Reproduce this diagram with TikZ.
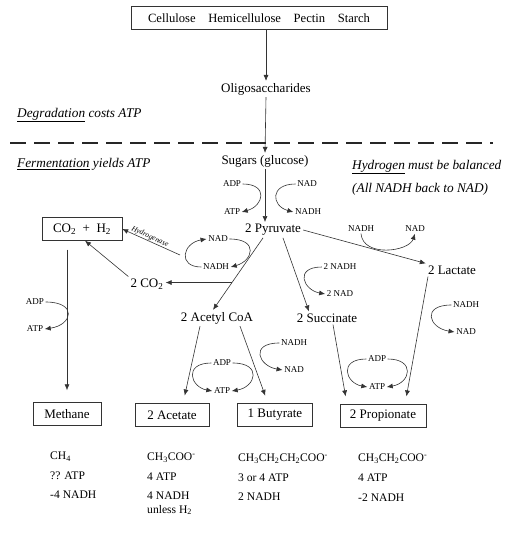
\documentclass[tikz,border=0pt]{standalone}
\usepackage{fontspec}
\setmainfont{Liberation Serif}
\usetikzlibrary{arrows.meta}

\begin{document}
\begin{tikzpicture}[
  x=1pt, y=-1pt,
  every node/.style={font=\fontsize{13}{15}\selectfont, inner sep=2pt},
  box node/.style={
    draw=black!80,
    minimum height=23pt,
    inner sep=4pt,
  },
  cofactor/.style={font=\fontsize{9}{10}\selectfont, inner sep=1.5pt},
  note/.style={anchor=west, inner sep=0pt, font=\fontsize{13.3}{15}\selectfont\itshape},
  yield/.style={anchor=west, inner sep=0pt, font=\fontsize{11.6}{13}\selectfont},
  flow/.style={draw=black!80, line width=0.6pt, -{Latex[length=6pt,width=5pt]}},
  divider/.style={draw=black!85, line width=1.6pt, dash pattern=on 16pt off 8pt},
  ]
  \useasboundingbox (0,0) rectangle (524,537);

  % degradation
  \node[box node, minimum width=256pt, font=\fontsize{12.6}{15}\selectfont] (polymers) at (259,18)
    {Cellulose\quad Hemicellulose\quad Pectin\quad Starch};
  \node (oligo) at (266,89) {Oligosaccharides};
  \node[note] (degrade-note) at (17,115) {\underline{Degradation} costs ATP};
  \coordinate (divide-left) at (10,143);
  \coordinate (divide-right) at (493,143);

  % fermentation
  \node[note] (ferment-note)  at (17,164)  {\underline{Fermentation} yields ATP};
  \node[note] (hydrogen-note) at (352,167) {\underline{Hydrogen} must be balanced};
  \node[note] (balance-note)  at (352,189) {(All NADH back to NAD)};
  \node (sugars)    at (265,161) {Sugars (glucose)};
  \node (pyruvate)  at (273,230) {2 Pyruvate};
  \node (lactate)   at (452,270) {2 Lactate};
  \node (co2)       at (147,284) {2 CO\textsubscript{2}};
  \node (acetyl)    at (217,318) {2 Acetyl CoA};
  \node (succinate) at (327,318) {2 Succinate};
  \node[box node, minimum width=80pt] (co2h2) at (82,229)
    {CO\textsubscript{2}\ \ +\ \ H\textsubscript{2}};

  % products
  \node[box node, minimum width=68pt] (methane)    at (67,414)  {Methane};
  \node[box node, minimum width=74pt] (acetate)    at (172,415) {2 Acetate};
  \node[box node, minimum width=75pt] (butyrate)   at (275,415) {1 Butyrate};
  \node[box node, minimum width=86pt] (propionate) at (383,416) {2 Propionate};

  % cofactors
  \node[cofactor] (sug-adp)   at (232,184) {ADP};
  \node[cofactor] (sug-atp)   at (232,212) {ATP};
  \node[cofactor] (sug-nad)   at (307,184) {NAD};
  \node[cofactor] (sug-nadh)  at (308,212) {NADH};
  \node[cofactor] (pyr-nad)   at (218,239) {NAD};
  \node[cofactor] (pyr-nadh)  at (216,267) {NADH};
  \node[cofactor] (lac-nadh)  at (361,229) {NADH};
  \node[cofactor] (lac-nad)   at (415,229) {NAD};
  \node[cofactor] (suc-nadh)  at (340,267) {2 NADH};
  \node[cofactor] (suc-nad)   at (340,294) {2 NAD};
  \node[cofactor] (met-adp)   at (35,302)  {ADP};
  \node[cofactor] (met-atp)   at (35,329)  {ATP};
  \node[cofactor] (prop-nadh) at (466,305) {NADH};
  \node[cofactor] (prop-nad)  at (466,332) {NAD};
  \node[cofactor] (but-nadh)  at (294,343) {NADH};
  \node[cofactor] (but-nad)   at (294,370) {NAD};
  \node[cofactor] (ace-adp)   at (222,363) {ADP};
  \node[cofactor] (ace-atp)   at (222,391) {ATP};
  \node[cofactor] (prop-adp)  at (377,359) {ADP};
  \node[cofactor] (prop-atp)  at (377,387) {ATP};

  % yields
  \node[yield] (methane-formula) at (50,457)  {CH\textsubscript{4}};
  \node[yield] (methane-atp)     at (50,476)  {?? ATP};
  \node[yield] (methane-nadh)    at (50,495)  {-4 NADH};
  \node[yield] (acetate-formula) at (147,458) {CH\textsubscript{3}COO\textsuperscript{-}};
  \node[yield] (acetate-atp)     at (147,477) {4 ATP};
  \node[yield] (acetate-nadh)    at (147,496) {4 NADH};
  \node[yield] (acetate-note)    at (147,510) {unless H\textsubscript{2}};
  \node[yield] (butyrate-formula) at (238,459)
    {CH\textsubscript{3}CH\textsubscript{2}CH\textsubscript{2}COO\textsuperscript{-}};
  \node[yield] (butyrate-atp)    at (238,478) {3 or 4 ATP};
  \node[yield] (butyrate-nadh)   at (238,497) {2 NADH};
  \node[yield] (propionate-formula) at (358,459)
    {CH\textsubscript{3}CH\textsubscript{2}COO\textsuperscript{-}};
  \node[yield] (propionate-atp)  at (358,478) {4 ATP};
  \node[yield] (propionate-nadh) at (358,498) {-2 NADH};

  % main flow
  \path[flow] (polymers.south -| oligo.north) -- (oligo.north);
  \path[flow] (oligo.south) -- (sugars.north);
  \path[divider] (divide-left) -- (divide-right);
  \path[flow] (sugars.south) -- (sugars.south |- pyruvate.north);
  \path[flow] ([xshift=-10pt]pyruvate.south) -- coordinate[pos=0.62] (co2-branch)
    ([xshift=-4pt]acetyl.north);
  \path[flow] (co2-branch) -- (co2-branch -| co2.east);
  \path[flow] (co2.north west) -- ([xshift=3pt]co2h2.south);
  \path[flow,shorten <=9pt,shorten >=12pt] (co2h2.south -| methane.north) -- (methane.north);
  \path[flow] ([xshift=10pt]pyruvate.south) -- ([xshift=-18pt]succinate.north);
  \path[flow] (pyruvate.east) -- (lactate.north west);
  \path[flow,shorten >=8pt] ([xshift=-17pt]acetyl.south) -- ([xshift=11pt]acetate.north);
  \path[flow,shorten >=8pt] ([xshift=23pt]acetyl.south) -- ([xshift=-7pt]butyrate.north);
  \path[flow,shorten >=8pt] ([xshift=6pt]succinate.south) -- ([xshift=-36pt]propionate.north);
  \path[flow,shorten >=8pt] ([xshift=-24pt]lactate.south) -- ([xshift=22pt]propionate.north);
  \coordinate (hyd-loop) at (180,255);
  \path[flow] (hyd-loop) -- node[sloped,above,pos=0.55,inner sep=0.5pt,
    font=\fontsize{7.5}{8}\selectfont\itshape] {Hydrogenase} (co2h2.east);

  % cofactor loops
  \path[flow] (sug-adp.east) .. controls +(26,0) and +(22,-6) .. (sug-atp.east);
  \path[flow] (sug-nad.west) .. controls +(-26,0) and +(-22,-6) .. (sug-nadh.west);
  \path[flow] (pyr-nadh.west) .. controls +(-24,0) and +(-24,4) .. (pyr-nad.west);
  \path[flow] (pyr-nad.east) .. controls +(30,0) and +(22,-6) .. (pyr-nadh.east);
  \path[flow] (lac-nadh.south) .. controls +(2,24) and +(-6,18) .. (lac-nad.south);
  \path[flow] (suc-nadh.west) .. controls +(-28,0) and +(-22,-4) .. (suc-nad.west);
  \path[flow] (met-adp.east) .. controls +(32,0) and +(28,-4) .. (met-atp.east);
  \path[flow] (prop-nadh.west) .. controls +(-30,0) and +(-26,-4) .. (prop-nad.west);
  \path[flow] (but-nadh.west) .. controls +(-30,0) and +(-24,-4) .. (but-nad.west);
  \path[flow] (ace-adp.west) .. controls +(-28,0) and +(-22,-4) .. (ace-atp.west);
  \path[flow] (ace-adp.east) .. controls +(30,0) and +(24,-4) .. (ace-atp.east);
  \path[flow] (prop-adp.west) .. controls +(-28,0) and +(-22,-4) .. (prop-atp.west);
  \path[flow] (prop-adp.east) .. controls +(28,0) and +(24,-4) .. (prop-atp.east);
\end{tikzpicture}
\end{document}
